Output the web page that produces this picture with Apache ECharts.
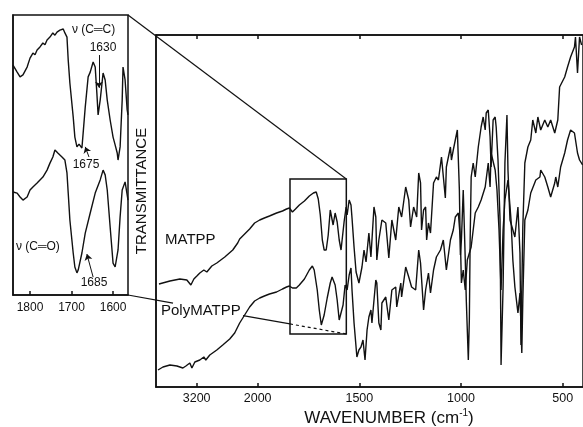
<!DOCTYPE html>
<html><head><meta charset="utf-8">
<script src="https://cdn.jsdelivr.net/npm/echarts@6/dist/echarts.min.js"></script>
<style>html,body{margin:0;padding:0;background:#fff}#c{width:583px;height:427px}</style>
</head><body><div id="c"></div>
<script>
// ---- data ----
const wnTicks = [3200, 2000, 1500, 1000, 500];
const insetTicks = [1800, 1700, 1600];
const zoomWn = [1841, 1564];   // zoom window shown in the inset
const zoomT = [13.25, 52];

const matpp = [[3941,25.75],[3726,26.5],[3530,27],[3393,26.75],[3314,25.5],[3255,27],[3196,27.75],[3138,28.5],[3059,29.25],[3000,28.75],[2902,30.25],[2804,31],[2647,32.5],[2490,34.25],[2393,36],[2354,37],[2256,38.25],[2158,39.5],[2060,41],[1990,41.75],[1967,42.25],[1942,42.75],[1907,43.5],[1878,44],[1858,44.5],[1844,44.75],[1829,43.75],[1814,44.5],[1795,45.5],[1770,46.5],[1746,47.75],[1726,48.5],[1712,48.75],[1702,47],[1692,43],[1682,36.75],[1673,34.25],[1663,34.25],[1653,38],[1643,44.25],[1634,43.75],[1629,40.5],[1619,43.5],[1609,41.25],[1599,36.75],[1590,34.25],[1585,33.75],[1575,41.25],[1565,45],[1560,43],[1550,46.75],[1541,45.5],[1536,42.25],[1526,35],[1516,28.75],[1502,26],[1487,30],[1477,34.25],[1467,31.25],[1453,38.5],[1443,32.5],[1428,45],[1419,42.5],[1414,31.75],[1404,36.75],[1389,41.75],[1370,41],[1355,32.25],[1340,41.75],[1321,36.75],[1306,45],[1292,42.5],[1272,50],[1257,46.75],[1248,40],[1233,45],[1218,42.5],[1208,53.5],[1199,51],[1194,39.25],[1184,44.25],[1174,45],[1169,36.75],[1160,41],[1150,38.5],[1135,51],[1121,52.5],[1111,51.75],[1096,57.5],[1077,47.25],[1072,55],[1052,60],[1047,56.75],[1038,59.25],[1028,61.75],[1018,64.25],[1008,49.25],[1003,33],[998,36.75],[989,49.25],[979,31.75],[974,21.75],[964,6.75],[959,16.75],[955,36.75],[950,52.5],[940,56],[930,52.5],[915,60],[901,65],[891,67.5],[881,64.25],[876,68.5],[866,69.25],[857,62.5],[852,55],[842,66.75],[832,67.5],[827,65],[818,56.75],[808,41.75],[803,5.5],[793,25],[784,56],[774,68],[769,54.25],[759,41.75],[749,40],[735,37.5],[720,45],[710,33.5],[705,10.5],[696,40],[686,56],[671,60],[657,61.75],[647,66.75],[632,63.5],[622,67.5],[608,64.25],[588,66.75],[573,65],[559,66.75],[539,63.5],[524,66.75],[515,75],[490,77.5],[476,80],[461,82.5],[442,85],[437,87.5],[427,78.5],[417,87.5],[407,85.5]];

const polyMatpp = [[3961,4.25],[3863,5],[3726,5.5],[3588,5.25],[3471,4.75],[3412,5.25],[3334,6],[3294,4.75],[3236,6.25],[3138,6.75],[3059,7.5],[3020,6.75],[2942,8],[2804,9.25],[2687,10.5],[2550,12],[2452,13.5],[2354,16],[2256,18],[2158,20],[2060,21.5],[1990,22.25],[1967,22.75],[1942,23.25],[1907,23.75],[1878,24.5],[1858,25],[1844,25.25],[1829,24.75],[1810,24.75],[1795,25.5],[1770,27],[1746,29.25],[1731,30.25],[1722,29.25],[1707,24.25],[1697,19.25],[1687,15.5],[1673,18],[1658,22.25],[1643,26],[1634,27.5],[1619,25.5],[1609,21.75],[1599,16.75],[1590,16.25],[1580,20.5],[1570,25.5],[1560,24.25],[1550,28],[1541,29.75],[1536,24.25],[1526,16],[1512,7.5],[1502,9.25],[1492,10],[1482,11.75],[1472,6.75],[1462,14.25],[1453,17.5],[1443,19.25],[1438,16],[1419,26.75],[1414,26],[1404,16],[1394,14.25],[1389,21],[1370,22.5],[1355,16.75],[1340,24.25],[1321,25],[1316,20],[1296,26],[1292,22.5],[1272,30],[1257,27.5],[1243,25],[1223,24.25],[1208,34.25],[1199,31],[1184,19.25],[1174,24.25],[1160,28.5],[1150,23.5],[1135,29.25],[1121,32.5],[1101,34.25],[1087,36.75],[1072,29.25],[1052,36.75],[1038,39.25],[1028,42.5],[1013,43.5],[1003,36.75],[998,26],[989,29.25],[979,24.25],[969,31.75],[950,35],[930,43.5],[915,45],[901,46.75],[881,50],[866,56],[857,50],[852,58.5],[832,54.25],[823,49.25],[813,39.25],[803,24.25],[793,39.25],[784,46.75],[769,51.75],[754,41.75],[745,31.75],[735,25],[720,18.5],[710,23.5],[701,8.5],[696,21.75],[686,41.75],[671,44.25],[657,48.5],[632,51.75],[612,52.5],[608,54.25],[588,52.5],[573,50],[559,47.5],[539,51],[534,52.5],[524,50],[510,55],[490,58.5],[476,61.75],[461,64.25],[442,63.5],[427,58.5],[417,56.75],[402,55.5]];

const insetMatpp = [[1841,82.1],[1831,79.6],[1824,77.9],[1817,78.6],[1807,81.4],[1800,84.6],[1793,86.4],[1788,85.8],[1783,87.5],[1776,88.6],[1769,90],[1764,89.4],[1759,91.1],[1752,92.1],[1745,93.6],[1740,92.8],[1735,93.9],[1728,94.6],[1720,95],[1716,93.6],[1711,92.1],[1708,83.9],[1704,75.7],[1696,63.6],[1692,56.4],[1687,52.9],[1682,53.9],[1680,53.6],[1675,52.5],[1672,57.9],[1667,67.1],[1660,77.9],[1655,79.6],[1648,83.2],[1643,81.4],[1639,72.1],[1636,64.3],[1631,69.6],[1624,79.3],[1619,76.8],[1614,69.6],[1607,62.5],[1600,56.4],[1595,53.6],[1590,50.7],[1588,48.2],[1583,52.9],[1578,69.6],[1576,81.4],[1571,76.8],[1566,66.1],[1564,64.3]];

const insetPoly = [[1841,36.8],[1831,36.4],[1824,35],[1817,33.9],[1807,35],[1800,37.5],[1793,38.6],[1783,40],[1776,41.1],[1769,42.1],[1759,44.6],[1752,47.1],[1745,49.3],[1740,51.8],[1733,50.7],[1723,49.3],[1716,48.2],[1711,43.6],[1708,36.4],[1704,26.8],[1696,15],[1692,10],[1687,7.9],[1684,8.9],[1675,15],[1667,22.1],[1655,29.3],[1643,36.4],[1631,41.1],[1624,44.6],[1619,42.9],[1614,37.5],[1607,24.3],[1600,11.4],[1595,10],[1588,16.1],[1583,27.9],[1578,37.5],[1571,40.4],[1564,33.9]];

// annotation arrows in the inset: [tailWn, tailT, headWn, headT]
const arrow1630 = [1634, 85.7, 1634, 74];
const arrow1675 = [1658, 49.3, 1667, 52.9];
const arrow1685 = [1648, 6.4, 1663, 14.6];

// ---- helpers ----
// broken wavenumber scale: 4000-2000 compressed 4x, 2000-400 linear
function u(w) { return w >= 2000 ? (4000 - w) / 4 : 500 + (2000 - w); }
function wOf(v) { return v <= 500 ? 4000 - 4 * v : 2000 - (v - 500); }

const FONT = '"Liberation Sans", Arial, Helvetica, sans-serif';
const INK = '#111';
const AX = { color: INK, width: 1.5 };
const LW = 1.4;

const chart = echarts.init(document.getElementById('c'));
const mainTicks = wnTicks.map(u);

const option = {
  animation: false,
  backgroundColor: '#fff',
  grid: [
    { left: 156, top: 35, width: 429.5, height: 352, show: true, borderColor: INK, borderWidth: 1.5, backgroundColor: 'transparent' },
    { left: 13, top: 15, width: 115, height: 280, show: true, borderColor: INK, borderWidth: 1.5, backgroundColor: 'transparent' }
  ],
  xAxis: [
    { type: 'value', gridIndex: 0, min: 0, max: 2100, position: 'bottom',
      axisLine: { show: true, lineStyle: AX },
      axisTick: { show: true, inside: true, length: 4, customValues: mainTicks, lineStyle: AX },
      axisLabel: { show: true, customValues: mainTicks, formatter: v => String(Math.round(wOf(v))), color: INK, fontSize: 12.5, fontFamily: FONT, margin: 5 },
      splitLine: { show: false } },
    { type: 'value', gridIndex: 0, min: 0, max: 2100, position: 'top',
      axisLine: { show: true, lineStyle: AX },
      axisTick: { show: true, inside: true, length: 4, customValues: mainTicks, lineStyle: AX },
      axisLabel: { show: false }, splitLine: { show: false } },
    { type: 'value', gridIndex: 1, min: zoomWn[1], max: zoomWn[0], inverse: true, position: 'bottom',
      axisLine: { show: true, lineStyle: AX },
      axisTick: { show: true, inside: true, length: 4, customValues: insetTicks, lineStyle: AX },
      axisLabel: { show: true, customValues: insetTicks, formatter: v => String(v), color: INK, fontSize: 12, fontFamily: FONT, margin: 6.5 },
      splitLine: { show: false } }
  ],
  yAxis: [
    { type: 'value', gridIndex: 0, min: 0, max: 88, axisLine: { show: true, lineStyle: AX }, axisTick: { show: false }, axisLabel: { show: false }, splitLine: { show: false } },
    { type: 'value', gridIndex: 1, min: 0, max: 100, axisLine: { show: true, lineStyle: AX }, axisTick: { show: false }, axisLabel: { show: false }, splitLine: { show: false } }
  ],
  series: [
    { name: 'MATPP', type: 'line', xAxisIndex: 0, yAxisIndex: 0, showSymbol: false, symbol: 'none',
      data: matpp.map(p => [u(p[0]), p[1]]), lineStyle: { color: INK, width: LW },
      markArea: { silent: true, itemStyle: { color: 'rgba(0,0,0,0)', borderColor: INK, borderWidth: 1.5 },
        data: [[{ coord: [u(zoomWn[0]), zoomT[0]] }, { coord: [u(zoomWn[1]), zoomT[1]] }]] } },
    { name: 'PolyMATPP', type: 'line', xAxisIndex: 0, yAxisIndex: 0, showSymbol: false, symbol: 'none',
      data: polyMatpp.map(p => [u(p[0]), p[1]]), lineStyle: { color: INK, width: LW } },
    { name: 'MATPP inset', type: 'line', xAxisIndex: 2, yAxisIndex: 1, showSymbol: false, symbol: 'none',
      data: insetMatpp, lineStyle: { color: INK, width: LW },
      markLine: { silent: true, symbol: ['none', 'arrow'], symbolSize: 6, label: { show: false },
        lineStyle: { color: INK, width: 1, type: 'solid' },
        data: [arrow1630, arrow1675].map(a => [{ coord: [a[0], a[1]] }, { coord: [a[2], a[3]] }]) } },
    { name: 'PolyMATPP inset', type: 'line', xAxisIndex: 2, yAxisIndex: 1, showSymbol: false, symbol: 'none',
      data: insetPoly, lineStyle: { color: INK, width: LW },
      markLine: { silent: true, symbol: ['none', 'arrow'], symbolSize: 6, label: { show: false },
        lineStyle: { color: INK, width: 1, type: 'solid' },
        data: [arrow1685].map(a => [{ coord: [a[0], a[1]] }, { coord: [a[2], a[3]] }]) } }
  ]
};
chart.setOption(option);

// ---- annotation overlay ----
const M = { xAxisIndex: 0, yAxisIndex: 0 };
const I = { xAxisIndex: 2, yAxisIndex: 1 };
const insTR = chart.convertToPixel(I, [zoomWn[1], 100]);
const insBR = chart.convertToPixel(I, [zoomWn[1], 0]);
const boxTR = chart.convertToPixel(M, [u(zoomWn[1]), zoomT[1]]);
const boxBR = chart.convertToPixel(M, [u(zoomWn[1]), zoomT[0]]);
const boxBL = chart.convertToPixel(M, [u(zoomWn[0]), zoomT[0]]);
function at(x) { const t = (x - insBR[0]) / (boxBR[0] - insBR[0]); return [x, insBR[1] + t * (boxBR[1] - insBR[1])]; }
const gapA = 173, gapB = 243;
function seg(p, q, dash) {
  return { type: 'line', silent: true, z: 50, shape: { x1: p[0], y1: p[1], x2: q[0], y2: q[1] },
    style: { stroke: INK, lineWidth: 1.2, lineDash: dash || null } };
}
function txt(x, y, s, size, align, extra) {
  return Object.assign({ type: 'text', x: x, y: y, silent: true, z: 60,
    style: { text: s, fill: INK, fontSize: size, fontFamily: FONT, align: align || 'left', verticalAlign: 'middle' } }, extra || {});
}
chart.setOption({
  graphic: [
    seg(insTR, boxTR),
    seg(insBR, at(gapA)),
    seg(at(gapB), at(boxBL[0])),
    seg(at(boxBL[0]), boxBR, [3, 3]),
    txt(72, 30, 'ν (C═C)', 12),
    txt(103, 48, '1630', 12, 'center'),
    txt(86, 165, '1675', 12, 'center'),
    txt(16, 247, 'ν (C═O)', 12),
    txt(94, 283, '1685', 12, 'center'),
    txt(165, 240, 'MATPP', 15),
    txt(161, 311, 'PolyMATPP', 15),
    txt(142, 191, 'TRANSMITTANCE', 15, 'center', { rotation: Math.PI / 2 }),
    { type: 'text', x: 389, y: 418, silent: true, z: 60,
      style: { text: '{a|WAVENUMBER (cm}{s|-1}{a|)}', align: 'center', verticalAlign: 'middle', fill: INK,
        rich: { a: { fontSize: 17, fontFamily: FONT, fill: INK, lineHeight: 20 },
                s: { fontSize: 10, fontFamily: FONT, fill: INK, verticalAlign: 'top', lineHeight: 20 } } } }
  ]
});
</script></body></html>
